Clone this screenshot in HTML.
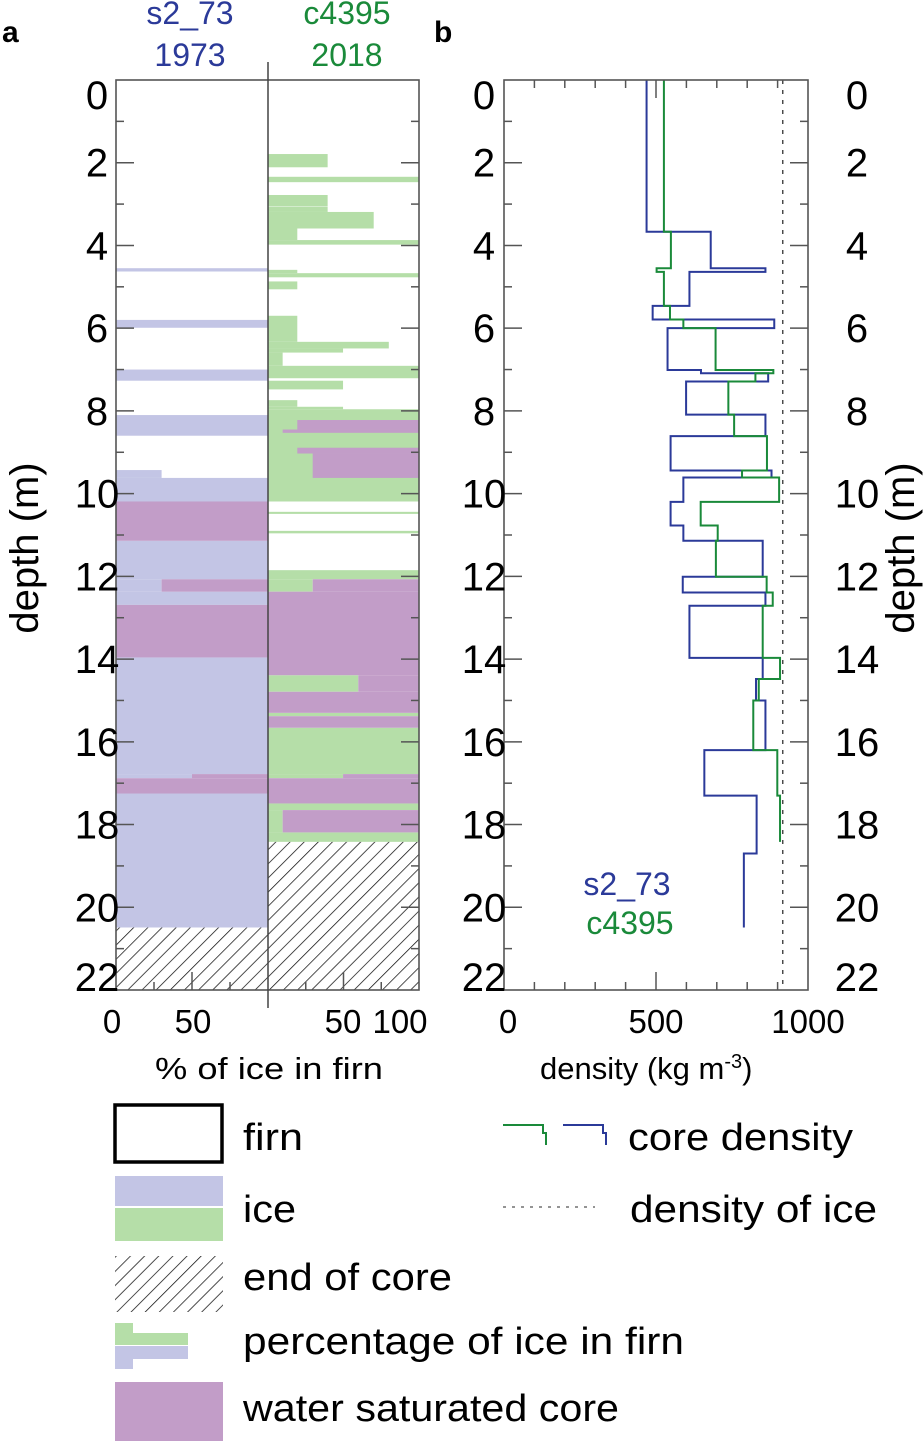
<!DOCTYPE html>
<html><head><meta charset="utf-8"><style>
html,body{margin:0;padding:0;background:#fff;}
svg{display:block;font-family:"Liberation Sans",sans-serif;}
</style></head><body>
<svg id="chart" width="924" height="1441" viewBox="0 0 924 1441" xmlns="http://www.w3.org/2000/svg">
<defs>
<pattern id="hatch" patternUnits="userSpaceOnUse" width="10" height="10" patternTransform="rotate(45)">
<rect width="10" height="10" fill="#fff"/><line x1="0" y1="0" x2="0" y2="10" stroke="#111" stroke-width="1.5"/>
</pattern>
</defs>
<g id="panelA"></g>
<g id="panelB"></g>
<g id="axes"></g>

<text x="2" y="42" font-size="30" font-weight="bold">a</text>
<text x="434" y="42" font-size="30" font-weight="bold">b</text>
<text x="190" y="24" font-size="32" fill="#2b3a99" text-anchor="middle">s2_73</text>
<text x="190" y="66" font-size="32" fill="#2b3a99" text-anchor="middle">1973</text>
<text x="347" y="24" font-size="32" fill="#1a8a3a" text-anchor="middle">c4395</text>
<text x="347" y="66" font-size="32" fill="#1a8a3a" text-anchor="middle">2018</text>
<text x="627" y="895" font-size="32" fill="#2b3a99" text-anchor="middle">s2_73</text>
<text x="630" y="934" font-size="32" fill="#1a8a3a" text-anchor="middle">c4395</text>

<text x="155" y="1079" font-size="31" textLength="228" lengthAdjust="spacingAndGlyphs">% of ice in firn</text>
<text x="540" y="1079" font-size="31">density (kg m<tspan font-size="20" dy="-11">-3</tspan><tspan dy="11">)</tspan></text>
<text transform="translate(38,548) rotate(-90)" font-size="40" text-anchor="middle">depth (m)</text>
<text transform="translate(914,548) rotate(-90)" font-size="40" text-anchor="middle">depth (m)</text>

<g font-size="38">
<rect x="115" y="1105" width="107" height="57" fill="#fff" stroke="#000" stroke-width="3.5"/>
<text x="243" y="1150" textLength="60" lengthAdjust="spacingAndGlyphs">firn</text>
<rect x="115" y="1176" width="108" height="30" fill="#c3c5e5"/>
<rect x="115" y="1208" width="108" height="33" fill="#b5dea8"/>
<text x="243" y="1222" textLength="53" lengthAdjust="spacingAndGlyphs">ice</text>
<rect x="115" y="1256" width="108" height="56" fill="url(#hatch)"/>
<text x="243" y="1290" textLength="209" lengthAdjust="spacingAndGlyphs">end of core</text>
<path d="M115 1323h18v10h55v12h-73z" fill="#b5dea8"/>
<path d="M115 1346h73v13h-55v10h-18z" fill="#c3c5e5"/>
<text x="243" y="1354" textLength="441" lengthAdjust="spacingAndGlyphs">percentage of ice in firn</text>
<rect x="115" y="1382" width="108" height="59" fill="#c29dc8"/>
<text x="243" y="1421" textLength="376" lengthAdjust="spacingAndGlyphs">water saturated core</text>
<path d="M503 1125h40v8h3v12" fill="none" stroke="#1a8a3a" stroke-width="2"/>
<path d="M563 1125h40v8h3v12" fill="none" stroke="#2b3a99" stroke-width="2"/>
<text x="628" y="1150" textLength="225" lengthAdjust="spacingAndGlyphs">core density</text>
<line x1="503" y1="1207" x2="595" y2="1207" stroke="#555" stroke-width="1.3" stroke-dasharray="3,6"/>
<text x="630" y="1222" textLength="247" lengthAdjust="spacingAndGlyphs">density of ice</text>
</g>
</svg>
<script>
// Panel a: ice layers [top depth, bottom depth, percent ice]
const ice1973 = [[4.55,4.63,100],[5.80,5.99,100],[7.00,7.27,100],[8.10,8.60,100],[9.43,9.62,30],[9.62,10.19,100],[11.14,12.07,100],[12.07,12.37,30],[12.37,12.69,100],[13.96,16.78,100],[16.78,16.88,50],[17.25,20.49,100]];
const ice2018 = [[1.79,2.11,39.5],[2.34,2.47,100],[2.78,3.05,39.5],[3.06,3.19,39.5],[3.19,3.59,70],[3.59,3.87,19.4],[3.87,3.98,100],[4.59,4.67,19.4],[4.67,4.77,100],[4.87,5.06,19.4],[5.70,6.33,19.4],[6.33,6.49,80],[6.49,6.59,49.7],[6.59,6.91,9.7],[6.91,7.21,100],[7.27,7.48,49.7],[7.74,7.90,19.4],[7.90,7.96,49.7],[7.96,10.19,100],[10.44,10.49,100],[10.90,10.96,100],[11.85,12.07,100],[12.07,12.37,29.6],[14.39,14.79,59.8],[15.30,15.38,100],[15.66,16.78,100],[16.78,16.88,49.7],[17.49,17.65,100],[17.65,18.19,9.7],[18.19,18.42,100]];
// water saturated [top, bottom, starting percent]
const wet1973 = [[10.19,11.14,0],[12.07,12.37,30],[12.69,13.96,0],[16.78,16.88,50],[16.88,17.25,0]];
const wet2018 = [[8.22,8.45,19.4],[8.45,8.53,9.7],[8.89,9.03,19.4],[9.03,9.62,29.6],[12.07,12.37,29.6],[12.37,14.39,0],[14.39,14.79,59.8],[14.79,15.30,0],[15.38,15.66,0],[16.78,16.88,49.7],[16.88,17.49,0],[17.65,18.19,9.7]];
const coreEnd1973 = 20.49;
const coreEnd2018 = 18.42;
// Panel b: step profiles [bottom depth, density]
const dens1973 = [[3.67,469],[4.55,680],[4.64,860],[5.46,610],[5.79,489],[6.0,889],[7.01,538],[7.09,648],[7.29,869],[8.09,599],[8.61,860],[9.44,548],[9.61,880],[10.20,590],[10.77,548],[11.14,590],[12.01,851],[12.39,588],[12.71,860],[13.97,610],[14.48,851],[15.0,829],[16.2,860],[17.30,659],[18.70,831],[20.49,789]];
const dens2018 = [[3.67,526],[4.55,549],[4.64,502],[5.46,526],[5.79,546],[6.0,590],[7.01,696],[7.09,886],[7.29,827],[8.09,738],[8.61,757],[9.44,865],[9.61,783],[10.20,905],[10.77,647],[11.14,703],[12.01,697],[12.39,864],[12.71,884],[13.97,851],[14.48,908],[15.0,838],[16.2,820],[17.3,899],[18.42,908]];
const iceDensity = 917;
const depthTicks = [0,2,4,6,8,10,12,14,16,18,20,22];
const pctTicks = ["0","50"];
const pctTicksR = ["50","100"];
const densTicks = ["0","500","1000"];

const NS="http://www.w3.org/2000/svg";
const TOP=80, BOT=990, DMAX=22;
const y=d=>TOP+(BOT-TOP)*d/DMAX;
const xL=p=>116+152*p/100, xR=p=>268+151*p/100;
const xD=r=>504+304*r/1000;
function mk(tag,attrs,parent){const e=document.createElementNS(NS,tag);for(const k in attrs)e.setAttribute(k,attrs[k]);parent.appendChild(e);return e;}
const A=document.getElementById('panelA'),B=document.getElementById('panelB'),X=document.getElementById('axes');
const BLUE='#c3c5e5',GREEN='#b5dea8',PURP='#c29dc8';
ice1973.forEach(s=>{const r=mk('rect',{x:xL(0),y:y(s[0]),width:xL(s[2])-xL(0),height:y(s[1])-y(s[0]),fill:BLUE},A);

});
ice2018.forEach(s=>{const r=mk('rect',{x:xR(0),y:y(s[0]),width:xR(s[2])-xR(0),height:y(s[1])-y(s[0]),fill:GREEN},A);

});
wet1973.forEach(s=>{const r=mk('rect',{x:xL(s[2]),y:y(s[0]),width:xL(100)-xL(s[2]),height:y(s[1])-y(s[0]),fill:PURP},A);

});
wet2018.forEach(s=>{const r=mk('rect',{x:xR(s[2]),y:y(s[0]),width:xR(100)-xR(s[2]),height:y(s[1])-y(s[0]),fill:PURP},A);

});
let h1=mk('rect',{x:xL(0),y:y(coreEnd1973),width:152,height:BOT-y(coreEnd1973),fill:'url(#hatch)'},A);


let h2=mk('rect',{x:xR(0),y:y(coreEnd2018),width:151,height:BOT-y(coreEnd2018),fill:'url(#hatch)'},A);



// density profiles
let il=mk('line',{x1:xD(iceDensity),y1:TOP,x2:xD(iceDensity),y2:BOT,stroke:'#333','stroke-width':1.3,'stroke-dasharray':'4,6'},B);


function prof(data,col,name){let d='M'+xD(data[0][1])+' '+y(0);
data.forEach((s,i)=>{d+=' L'+xD(s[1])+' '+y(s[0]);if(i<data.length-1)d+=' L'+xD(data[i+1][1])+' '+y(s[0]);});
const p=mk('path',{d:d,fill:'none',stroke:col,'stroke-width':2},B);

}
prof(dens1973,'#2b3a99','density-profile-1973');
prof(dens2018,'#1a8a3a','density-profile-2018');

// frames
const st={fill:'none',stroke:'#555','stroke-width':1.6};
mk('rect',Object.assign({x:116,y:TOP,width:303,height:BOT-TOP},st),X);
mk('line',{x1:268,y1:62,x2:268,y2:1008,stroke:'#444','stroke-width':1.5},X);
mk('rect',Object.assign({x:504,y:TOP,width:304,height:BOT-TOP},st),X);
for(let d=1;d<DMAX;d++){const L=d%2?8:18;
[[116,1],[419,-1],[504,1],[808,-1]].forEach(a=>mk('line',{x1:a[0],y1:y(d),x2:a[0]+a[1]*L,y2:y(d),stroke:'#555','stroke-width':1.5},X));}
[25,50,75].forEach(p=>{const L=p==50?18:8;
mk('line',{x1:xL(p),y1:BOT,x2:xL(p),y2:BOT-L,stroke:'#555','stroke-width':1.5},X);
mk('line',{x1:xR(p),y1:BOT,x2:xR(p),y2:BOT-L,stroke:'#555','stroke-width':1.5},X);});
for(let r=100;r<1000;r+=100){const L=r==500?18:8;
mk('line',{x1:xD(r),y1:BOT,x2:xD(r),y2:BOT-L,stroke:'#555','stroke-width':1.5},X);
mk('line',{x1:xD(r),y1:TOP,x2:xD(r),y2:TOP+L,stroke:'#555','stroke-width':1.5},X);}
// labels
depthTicks.forEach(d=>{let yy=y(d)+14;if(d==0)yy=y(d)+29;if(d==22)yy=y(d)+1;
[[97,'depth-tick-left'],[484,'depth-tick-middle'],[857,'depth-tick-right']].forEach(a=>{
const t=mk('text',{x:a[0],y:yy,'font-size':40,'text-anchor':'middle'},X);t.textContent=d;

});});
pctTicks.forEach((s,i)=>{const t=mk('text',{x:[112,193][i],y:1033,'font-size':33,'text-anchor':'middle'},X);t.textContent=s;

});
pctTicksR.forEach((s,i)=>{const t=mk('text',{x:[343,400][i],y:1033,'font-size':33,'text-anchor':'middle'},X);t.textContent=s;

});
densTicks.forEach(s=>{const t=mk('text',{x:xD(+s)+(s=='0'?4:0),y:1033,'font-size':33,'text-anchor':'middle'},X);t.textContent=s;

});
</script>
</body></html>
